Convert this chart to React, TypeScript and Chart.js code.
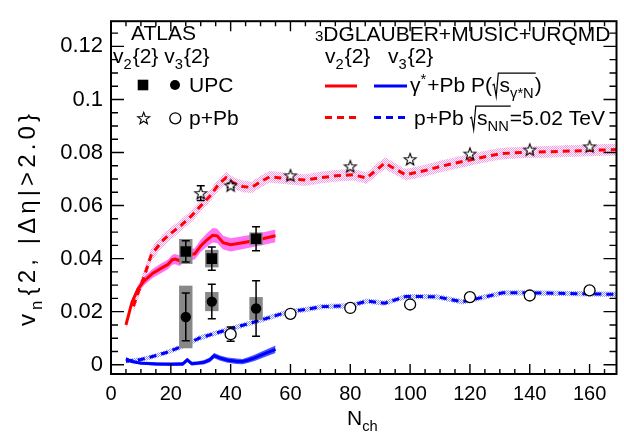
import React, { useEffect, useRef } from "react";
import { Chart, registerables } from "chart.js";
Chart.register(...registerables);

const FONT = '"Liberation Sans", Arial, Helvetica, sans-serif';

// ---------- axis ticks ----------
const xTickVals = [0, 20, 40, 60, 80, 100, 120, 140, 160];
const yTickVals = [0, 0.02, 0.04, 0.06, 0.08, 0.1, 0.12];

// ---------- model: 3DGLAUBER+MUSIC+URQMD ----------
// gamma*+Pb v2{2} (red solid) with magenta band
const redSolidN = [5, 7, 9, 11, 14, 17, 19, 20.5, 21.5, 23, 24.5, 26, 28, 30, 32, 34, 35.5, 37.5, 40, 45, 50, 55];
const redSolidV = [0.015, 0.0235, 0.0285, 0.0315, 0.0345, 0.0365, 0.0378, 0.0396, 0.0398, 0.0392, 0.0408, 0.0414, 0.0418, 0.0448, 0.047, 0.0488, 0.0486, 0.046, 0.0452, 0.0462, 0.0473, 0.0486];
const redSolidE = [0.001, 0.0012, 0.0014, 0.0016, 0.0017, 0.0018, 0.0018, 0.0019, 0.0019, 0.002, 0.002, 0.002, 0.0021, 0.0023, 0.0025, 0.0027, 0.0027, 0.0026, 0.0025, 0.0024, 0.0024, 0.0024];

// p+Pb v2{2} (red dashed) with pink hatched band
const redDashN = [7.5, 9, 11, 13.5, 17, 20, 23.5, 27, 30, 33, 36, 38.5, 41, 44, 47, 50, 53, 56, 60, 65, 70, 75, 81, 85.5, 91.5, 98.5, 105, 110, 115, 120, 125, 130, 135, 140, 150, 160, 169];
const redDashV = [0.022, 0.027, 0.033, 0.0415, 0.0465, 0.0495, 0.0526, 0.0562, 0.0599, 0.0635, 0.068, 0.0705, 0.0685, 0.0672, 0.0668, 0.069, 0.0708, 0.0705, 0.07, 0.0696, 0.0705, 0.0712, 0.0716, 0.0704, 0.076, 0.0716, 0.0732, 0.0747, 0.076, 0.0772, 0.0784, 0.0795, 0.0799, 0.0801, 0.0804, 0.0808, 0.0811];
const redDashE = [0.0025, 0.0025, 0.0025, 0.0025, 0.0024, 0.0023, 0.0022, 0.0022, 0.0022, 0.0022, 0.0022, 0.0022, 0.0022, 0.0022, 0.0022, 0.0022, 0.0022, 0.0022, 0.0022, 0.0022, 0.0022, 0.0022, 0.0022, 0.0022, 0.0022, 0.0022, 0.0022, 0.0022, 0.0022, 0.0022, 0.0022, 0.0022, 0.0022, 0.0022, 0.0022, 0.0022, 0.0022];

// gamma*+Pb v3{2} (blue solid) with blue band
const blueSolidN = [5, 7, 10, 15, 20, 24, 25.5, 27, 29, 31, 33, 34.5, 36.5, 39, 42, 44, 46, 48, 51, 55];
const blueSolidV = [0.0022, 0.0012, 0.0006, 0.0003, 0.0002, 0.0003, 0.0018, 0.0004, 0.0006, 0.0009, 0.0018, 0.0034, 0.0025, 0.0017, 0.0013, 0.0012, 0.0018, 0.0026, 0.004, 0.0058];
const blueSolidE = [0.0006, 0.0006, 0.0006, 0.0006, 0.0006, 0.0007, 0.0008, 0.0007, 0.0007, 0.0008, 0.0009, 0.001, 0.001, 0.001, 0.001, 0.001, 0.0011, 0.0012, 0.0013, 0.0014];

// p+Pb v3{2} (blue dashed) with light-blue hatched band
const blueDashN = [5, 7, 10, 13, 18.5, 24, 29.5, 35, 40.5, 46, 51.5, 57, 60, 65, 70.5, 76, 80, 85.5, 91.5, 98.5, 104, 109, 113, 117.5, 123.5, 131, 140, 150, 160, 169];
const blueDashV = [0.0013, 0.0016, 0.002, 0.0028, 0.0046, 0.007, 0.01, 0.0119, 0.0137, 0.0155, 0.0173, 0.0192, 0.02, 0.0208, 0.0219, 0.0221, 0.0222, 0.024, 0.0232, 0.0257, 0.0257, 0.0256, 0.0247, 0.0237, 0.0252, 0.0271, 0.0271, 0.0269, 0.0267, 0.0265];
const blueDashE = [0.0008, 0.0008, 0.0008, 0.0009, 0.0009, 0.001, 0.001, 0.001, 0.001, 0.001, 0.001, 0.001, 0.001, 0.001, 0.001, 0.001, 0.001, 0.001, 0.001, 0.001, 0.001, 0.001, 0.001, 0.001, 0.001, 0.001, 0.001, 0.001, 0.001, 0.001];

// ---------- ATLAS data ----------
const upcV2N = [25, 33.7, 48.5];
const upcV2V = [0.0427, 0.04, 0.0475];
const upcV2Stat = [0.004, 0.0044, 0.0045];
const upcV2Sys = [0.0047, 0.0033, 0.0024];

const upcV3N = [25, 33.7, 48.5];
const upcV3V = [0.018, 0.0238, 0.0212];
const upcV3Stat = [0.009, 0.0065, 0.0105];
const upcV3Sys = [0.0118, 0.0036, 0.0043];

const ppbV2N = [30, 40, 60, 80, 100, 120, 140, 160];
const ppbV2V = [0.0647, 0.0676, 0.0714, 0.0748, 0.0775, 0.0796, 0.0811, 0.0823];
const ppbV2Err = [0.0028, 0.0008, 0, 0, 0, 0, 0, 0];

const ppbV3N = [40, 60, 80, 100, 120, 140, 160];
const ppbV3V = [0.0115, 0.0192, 0.0214, 0.0227, 0.0255, 0.0261, 0.028];
const ppbV3Err = [0.0027, 0, 0, 0, 0, 0, 0];

// ---------- helpers ----------
type Seg = { t?: string; m?: "sub" | "sup"; s?: number; rad?: Seg[] };

const pts = (xs: number[], ys: number[]) => xs.map((x, i) => ({ x, y: ys[i] }));
const ptsOff = (xs: number[], ys: number[], es: number[], sign: number) =>
  xs.map((x, i) => ({ x, y: ys[i] + sign * es[i] }));

function starPath(g: CanvasRenderingContext2D, cx: number, cy: number, R: number, r: number) {
  g.beginPath();
  for (let i = 0; i < 10; i++) {
    const ang = -Math.PI / 2 + (i * Math.PI) / 5;
    const rad = i % 2 === 0 ? R : r;
    const px = cx + rad * Math.cos(ang);
    const py = cy + rad * Math.sin(ang);
    if (i === 0) g.moveTo(px, py);
    else g.lineTo(px, py);
  }
  g.closePath();
}

function makeStar() {
  const c = document.createElement("canvas");
  c.width = 16;
  c.height = 16;
  const g = c.getContext("2d")!;
  starPath(g, 8, 8.6, 6.3, 2.6);
  g.fillStyle = "#fff";
  g.fill();
  g.lineWidth = 1.1;
  g.strokeStyle = "#000";
  g.stroke();
  return c;
}

function makePattern(color: string) {
  const c = document.createElement("canvas");
  c.width = 2;
  c.height = 2;
  const g = c.getContext("2d")!;
  g.fillStyle = color;
  g.fillRect(0, 0, 1, 1);
  g.fillRect(1, 1, 1, 1);
  return g.createPattern(c, "repeat")!;
}

// draws text with sub/superscripts and radicals; ls = extra spacing after each glyph
function rich(ctx: CanvasRenderingContext2D, segs: Seg[], x0: number, y: number, size: number, draw = true, ls = 0): number {
  let x = x0;
  for (const s of segs) {
    if (s.rad) {
      const rw = size * 0.36;
      const inner = rich(ctx, s.rad, x + rw, y, size, false, ls);
      if (draw) {
        ctx.save();
        ctx.lineWidth = 1.2;
        ctx.strokeStyle = "#000";
        ctx.beginPath();
        ctx.moveTo(x + size * 0.02, y - size * 0.32);
        ctx.lineTo(x + size * 0.1, y - size * 0.37);
        ctx.lineTo(x + size * 0.2, y + size * 0.22);
        ctx.lineTo(x + size * 0.3, y - size * 0.9);
        ctx.lineTo(x + rw + inner + 1, y - size * 0.9);
        ctx.stroke();
        ctx.restore();
        rich(ctx, s.rad, x + rw, y, size, true, ls);
      }
      x += rw + inner;
      continue;
    }
    const sz = s.m ? size * 0.7 : s.s ? s.s : size;
    const dy = s.m === "sub" ? size * 0.3 : s.m === "sup" ? -size * 0.4 : 0;
    ctx.font = `${sz}px ${FONT}`;
    const txt = s.t || "";
    if (ls > 0) {
      for (const ch of Array.from(txt)) {
        if (draw) ctx.fillText(ch, x, y + dy);
        x += ctx.measureText(ch).width + ls;
      }
    } else {
      if (draw) ctx.fillText(txt, x, y + dy);
      x += ctx.measureText(txt).width;
    }
    x += s.m ? 1 : 0;
  }
  return x - x0;
}

// ---------- plugins ----------
const BOX_HALF_PX = 6.7;
const CAP_HALF_PX = 4;
const YTITLE_LEN = 212;

const errPlugin = {
  id: "errs",
  beforeDatasetDraw(chart: any, args: any) {
    if (args.index !== 12) return;
    const { ctx, scales } = chart;
    const xs = scales.x;
    const ys = scales.y;
    ctx.save();
    ctx.fillStyle = "#888888";
    const boxes: [number[], number[], number[]][] = [
      [upcV2N, upcV2V, upcV2Sys],
      [upcV3N, upcV3V, upcV3Sys],
    ];
    for (const [N, V, S] of boxes) {
      N.forEach((n, i) => {
        const px = xs.getPixelForValue(n);
        const y1 = ys.getPixelForValue(V[i] + S[i]);
        const y2 = ys.getPixelForValue(V[i] - S[i]);
        ctx.fillRect(px - BOX_HALF_PX, y1, 2 * BOX_HALF_PX, y2 - y1);
      });
    }
    ctx.strokeStyle = "#000";
    ctx.lineWidth = 1.5;
    const bars: [number[], number[], number[]][] = [
      [upcV2N, upcV2V, upcV2Stat],
      [upcV3N, upcV3V, upcV3Stat],
      [ppbV2N, ppbV2V, ppbV2Err],
      [ppbV3N, ppbV3V, ppbV3Err],
    ];
    ctx.beginPath();
    for (const [N, V, E] of bars) {
      N.forEach((n, i) => {
        if (!E[i]) return;
        const px = xs.getPixelForValue(n);
        const y1 = ys.getPixelForValue(V[i] + E[i]);
        const y2 = ys.getPixelForValue(V[i] - E[i]);
        ctx.moveTo(px, y1);
        ctx.lineTo(px, y2);
        ctx.moveTo(px - CAP_HALF_PX, y1);
        ctx.lineTo(px + CAP_HALF_PX, y1);
        ctx.moveTo(px - CAP_HALF_PX, y2);
        ctx.lineTo(px + CAP_HALF_PX, y2);
      });
    }
    ctx.stroke();
    ctx.restore();
  },
};

const framePlugin = {
  id: "frame",
  afterDraw(chart: any) {
    const { ctx, chartArea: a, scales } = chart;
    const xs = scales.x;
    const ys = scales.y;
    ctx.save();
    ctx.strokeStyle = "#000";
    ctx.lineWidth = 2;
    ctx.strokeRect(a.left, a.top, a.right - a.left, a.bottom - a.top);
    ctx.lineWidth = 1.4;
    ctx.beginPath();
    for (let k = 0; k * 5 <= xs.max; k++) {
      const px = xs.getPixelForValue(k * 5);
      const L = k % 4 === 0 ? 10 : 5;
      ctx.moveTo(px, a.bottom);
      ctx.lineTo(px, a.bottom - L);
      ctx.moveTo(px, a.top);
      ctx.lineTo(px, a.top + L);
    }
    for (let k = 0; k * 0.005 <= ys.max; k++) {
      const py = ys.getPixelForValue(k * 0.005);
      const L = k % 4 === 0 ? 13 : 7;
      ctx.moveTo(a.left, py);
      ctx.lineTo(a.left + L, py);
      ctx.moveTo(a.right, py);
      ctx.lineTo(a.right - L, py);
    }
    ctx.stroke();

    ctx.fillStyle = "#000";
    ctx.textBaseline = "alphabetic";
    ctx.textAlign = "left";

    // axis titles
    rich(ctx, [{ t: "N" }, { t: "ch", m: "sub" }], 347, 425, 21);
    ctx.save();
    ctx.translate(35, 220);
    ctx.rotate(-Math.PI / 2);
    const ytitle: Seg[] = [{ t: "v" }, { t: "n", m: "sub" }, { t: "{2, |Δη|>2.0}" }];
    const TS = 24;
    const w0 = rich(ctx, ytitle, 0, 0, TS, false, 0);
    const nch = 1 + 1 + Array.from("{2, |Δη|>2.0}").length;
    const ls = Math.max(0, (YTITLE_LEN - w0) / (nch - 1));
    const w = rich(ctx, ytitle, 0, 0, TS, false, ls) - ls;
    rich(ctx, ytitle, -w / 2, 0, TS, true, ls);
    ctx.restore();

    // left legend (ATLAS)
    const LS = 21;
    rich(ctx, [{ t: "ATLAS" }], 131, 40, LS);
    rich(ctx, [{ t: "v" }, { t: "2", m: "sub" }, { t: "{2} v" }, { t: "3", m: "sub" }, { t: "{2}" }], 113, 63, LS);
    ctx.fillRect(143 - 5.3, 85 - 5.3, 10.6, 10.6);
    ctx.beginPath();
    ctx.arc(175, 85, 5, 0, Math.PI * 2);
    ctx.fill();
    rich(ctx, [{ t: "UPC" }], 189, 92, LS);
    starPath(ctx, 143.7, 118.6, 6.3, 2.6);
    ctx.fillStyle = "#fff";
    ctx.fill();
    ctx.lineWidth = 1.1;
    ctx.stroke();
    ctx.beginPath();
    ctx.arc(175.3, 118.3, 5.5, 0, Math.PI * 2);
    ctx.fill();
    ctx.lineWidth = 1.3;
    ctx.stroke();
    ctx.fillStyle = "#000";
    rich(ctx, [{ t: "p+Pb" }], 189, 125, LS);

    // right legend (model)
    rich(ctx, [{ t: "3", s: 15 }, { t: "DGLAUBER+MUSIC+URQMD" }], 315, 41, LS);
    rich(ctx, [{ t: "v" }, { t: "2", m: "sub" }, { t: "{2}" }], 325, 63, LS);
    rich(ctx, [{ t: "v" }, { t: "3", m: "sub" }, { t: "{2}" }], 388, 63, LS);
    ctx.lineWidth = 3;
    ctx.strokeStyle = "#ff0000";
    ctx.beginPath();
    ctx.moveTo(325, 86);
    ctx.lineTo(357, 86);
    ctx.stroke();
    ctx.setLineDash([7, 5]);
    ctx.beginPath();
    ctx.moveTo(325, 117.5);
    ctx.lineTo(357, 117.5);
    ctx.stroke();
    ctx.strokeStyle = "#0000ff";
    ctx.beginPath();
    ctx.moveTo(374, 117.5);
    ctx.lineTo(408, 117.5);
    ctx.stroke();
    ctx.setLineDash([]);
    ctx.beginPath();
    ctx.moveTo(374, 86);
    ctx.lineTo(407, 86);
    ctx.stroke();
    rich(
      ctx,
      [{ t: "γ" }, { t: "*", m: "sup" }, { t: "+Pb P(" }, { rad: [{ t: "s" }, { t: "γ*N", m: "sub" }] }, { t: ")" }],
      410,
      92,
      LS
    );
    rich(ctx, [{ t: "p+Pb " }, { rad: [{ t: "s" }, { t: "NN", m: "sub" }] }, { t: "=5.02 TeV" }], 414, 125, LS);
    ctx.restore();
  },
};

export default function App() {
  const ref = useRef<HTMLCanvasElement>(null);
  useEffect(() => {
    const canvas = ref.current!;
    const ctx = canvas.getContext("2d")!;
    const star = makeStar();
    const pinkHatch = makePattern("rgb(252,150,236)");
    const blueHatch = makePattern("rgb(130,140,255)");
    const magentaBand = "rgb(255,115,242)";
    const blueBand = "rgb(70,85,255)";

    const band = (N: number[], V: number[], E: number[], bg: any, order: number) => [
      { data: ptsOff(N, V, E, -1), borderWidth: 0, pointRadius: 0, fill: false, order, borderColor: "transparent" },
      { data: ptsOff(N, V, E, 1), borderWidth: 0, pointRadius: 0, fill: "-1", backgroundColor: bg, order, borderColor: "transparent" },
    ];
    const curve = (N: number[], V: number[], color: string, dash: number[]) => ({
      data: pts(N, V),
      borderColor: color,
      borderWidth: 3,
      borderDash: dash,
      pointRadius: 0,
      fill: false,
      order: 10,
    });

    const datasets: any[] = [
      ...band(redSolidN, redSolidV, redSolidE, magentaBand, 20),
      ...band(redDashN, redDashV, redDashE, pinkHatch, 20),
      ...band(blueSolidN, blueSolidV, blueSolidE, blueBand, 20),
      ...band(blueDashN, blueDashV, blueDashE, blueHatch, 20),
      curve(redDashN, redDashV, "#ff0000", [7, 5]),
      curve(redSolidN, redSolidV, "#ff0000", []),
      curve(blueDashN, blueDashV, "#0000ff", [7, 5]),
      curve(blueSolidN, blueSolidV, "#0000ff", []),
      {
        data: pts(upcV2N, upcV2V),
        showLine: false,
        pointStyle: "rect",
        pointRadius: 7.5,
        pointBackgroundColor: "#000",
        pointBorderWidth: 0,
        order: 3,
      },
      {
        data: pts(upcV3N, upcV3V),
        showLine: false,
        pointStyle: "circle",
        pointRadius: 5.2,
        pointBackgroundColor: "#000",
        pointBorderWidth: 0,
        order: 2,
      },
      {
        data: pts(ppbV2N, ppbV2V),
        showLine: false,
        pointStyle: star,
        pointRadius: 6,
        order: 2,
      },
      {
        data: pts(ppbV3N, ppbV3V),
        showLine: false,
        pointStyle: "circle",
        pointRadius: 5.5,
        pointBackgroundColor: "#fff",
        pointBorderColor: "#000",
        pointBorderWidth: 1.3,
        order: 2,
      },
    ];

    const chart = new Chart(ctx, {
      type: "line",
      data: { datasets },
      options: {
        animation: false,
        responsive: false,
        devicePixelRatio: 1,
        layout: { padding: { top: 9, right: 4, left: 0, bottom: 0 } },
        elements: { line: { tension: 0 } },
        plugins: { legend: { display: false }, tooltip: { enabled: false }, title: { display: false } },
        scales: {
          x: {
            type: "linear",
            min: 0,
            max: 169,
            grid: { display: false, drawTicks: false },
            border: { display: false },
            afterBuildTicks: (s: any) => {
              s.ticks = xTickVals.map((v) => ({ value: v }));
            },
            afterFit: (s: any) => {
              s.height = 70;
            },
            ticks: {
              color: "#000",
              padding: 8,
              maxRotation: 0,
              font: { family: FONT, size: 20 },
              callback: (v: any) => String(v),
            },
          },
          y: {
            type: "linear",
            min: -0.0035,
            max: 0.1295,
            grid: { display: false, drawTicks: false },
            border: { display: false },
            afterBuildTicks: (s: any) => {
              s.ticks = yTickVals.map((v) => ({ value: v }));
            },
            afterFit: (s: any) => {
              s.width = 111;
            },
            ticks: {
              color: "#000",
              padding: 8,
              font: { family: FONT, size: 22 },
              callback: (v: any) => String(parseFloat(Number(v).toFixed(3))),
            },
          },
        },
      },
      plugins: [errPlugin, framePlugin],
    } as any);
    return () => chart.destroy();
  }, []);
  return (
    <div style={{ position: "absolute", left: 0, top: 0, width: 624, height: 444, background: "#fff" }}>
      <canvas ref={ref} width={624} height={444} style={{ display: "block", width: 624, height: 444 }} />
    </div>
  );
}
